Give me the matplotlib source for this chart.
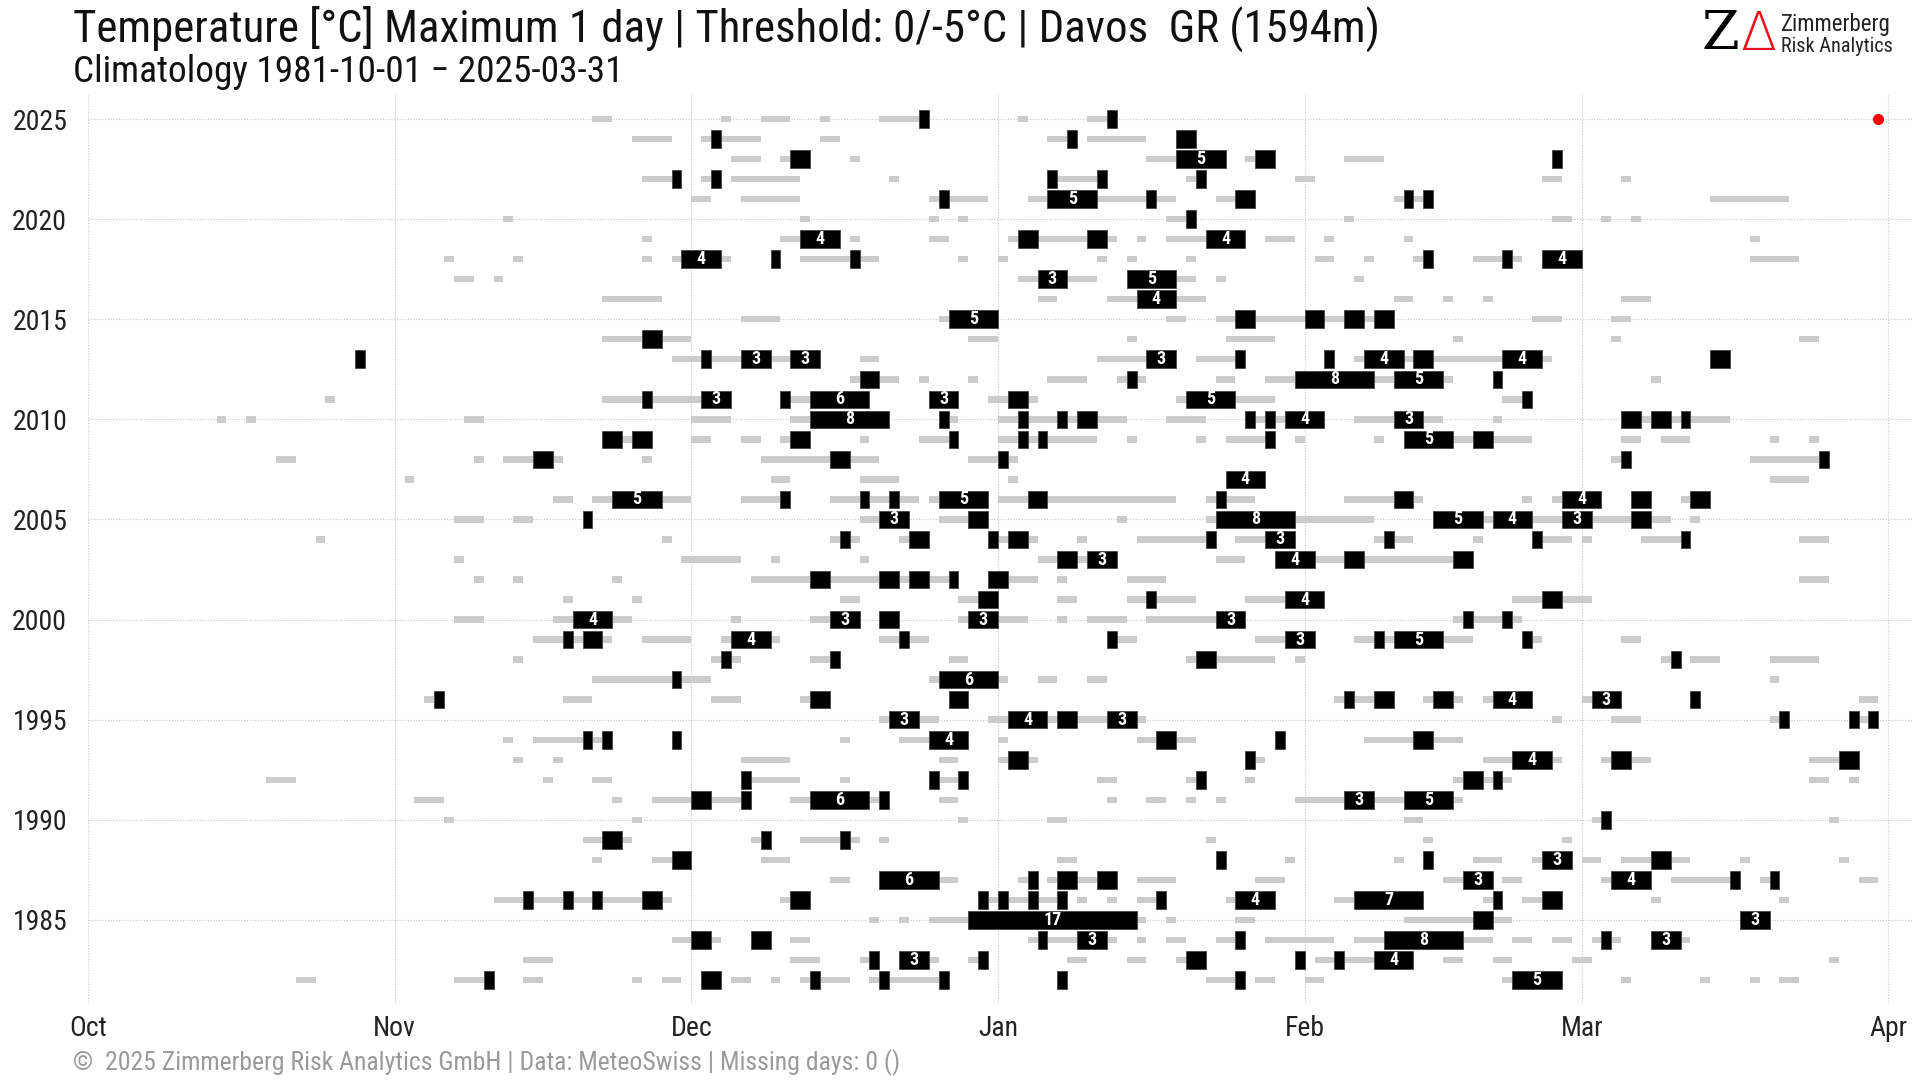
import matplotlib
matplotlib.use("Agg")
import matplotlib.pyplot as plt

plt.rcParams['font.family'] = ['Roboto Condensed', 'Liberation Sans Narrow', 'Roboto', 'DejaVu Sans']

# season rows (year of the Jan-Mar part), x = days since Oct 1
seasons = list(range(1982, 2026))
month_names = ['Oct', 'Nov', 'Dec', 'Jan', 'Feb', 'Mar', 'Apr']
month_days = [0, 31, 61, 92, 123, 151, 182]
year_ticks = list(range(1985, 2026, 5))
last_day = 181  # 2025-03-31

# runs of days with Tmax < 0 C : (first day, number of days)
below_0 = {
    2025: [(51, 2), (64, 1), (68, 3), (74, 1), (80, 4), (94, 1), (101, 2)],
    2024: [(55, 4), (62, 6), (74, 2), (97, 2), (101, 6)],
    2023: [(65, 3), (70, 1), (77, 1), (107, 3), (117, 1), (127, 4)],
    2022: [(56, 3), (62, 1), (65, 7), (81, 1), (98, 4), (111, 1), (122, 2), (147, 2), (155, 1)],
    2021: [(61, 2), (66, 6), (85, 1), (87, 4), (95, 2), (102, 5), (108, 2), (114, 2), (132, 4), (164, 8)],
    2020: [(42, 1), (72, 1), (85, 1), (88, 1), (109, 2), (127, 1), (148, 2), (153, 1), (156, 1)],
    2019: [(56, 1), (70, 2), (77, 1), (85, 2), (93, 1), (96, 5), (103, 1), (106, 1), (109, 4), (119, 3),
           (125, 1), (133, 1), (168, 1)],
    2018: [(36, 1), (43, 1), (56, 1), (59, 1), (64, 1), (72, 8), (88, 1), (92, 1), (102, 1), (105, 1),
           (111, 1), (124, 2), (129, 1), (134, 1), (140, 3), (144, 1), (168, 5)],
    2017: [(37, 2), (41, 1), (94, 2), (99, 3), (110, 2), (114, 1), (128, 1)],
    2016: [(52, 6), (96, 2), (103, 3), (110, 3), (132, 2), (137, 1), (141, 1), (155, 3)],
    2015: [(66, 4), (86, 1), (109, 2), (114, 16), (146, 3), (154, 2)],
    2014: [(52, 9), (89, 3), (105, 1), (115, 5), (138, 1), (154, 1), (173, 2)],
    2013: [(59, 13), (78, 2), (102, 5), (112, 4), (128, 20)],
    2012: [(77, 5), (84, 1), (89, 1), (97, 4), (104, 3), (114, 2), (119, 3), (130, 2), (137, 1), (158, 1)],
    2011: [(24, 1), (52, 10), (71, 2), (91, 2), (95, 1), (110, 1), (116, 4), (143, 2)],
    2010: [(13, 1), (16, 1), (38, 2), (61, 4), (71, 2), (87, 1), (92, 13), (109, 4), (118, 1), (120, 1),
           (128, 4), (135, 2), (142, 1), (157, 1), (160, 1), (162, 4)],
    2009: [(54, 1), (61, 2), (66, 2), (70, 1), (78, 1), (84, 3), (92, 10), (105, 1), (112, 1), (115, 4),
           (122, 1), (130, 1), (138, 2), (142, 4), (155, 2), (159, 3), (170, 1), (174, 1)],
    2008: [(19, 2), (39, 1), (42, 6), (56, 1), (68, 12), (89, 3), (93, 1), (154, 1), (168, 7)],
    2007: [(32, 1), (69, 2), (78, 4), (93, 1), (170, 4)],
    2006: [(47, 2), (51, 10), (66, 4), (75, 9), (85, 1), (92, 18), (113, 5), (127, 8), (145, 1), (148, 1),
           (161, 1)],
    2005: [(37, 3), (43, 2), (78, 2), (86, 3), (104, 1), (113, 1), (122, 8), (141, 1), (146, 3), (152, 8),
           (162, 1)],
    2004: [(23, 1), (58, 1), (75, 3), (82, 3), (92, 4), (100, 1), (106, 7), (116, 3), (130, 4), (140, 1),
           (146, 4), (151, 1), (157, 4), (173, 3)],
    2003: [(37, 1), (60, 6), (69, 1), (78, 1), (96, 2), (100, 1), (114, 3), (124, 3), (129, 9)],
    2002: [(39, 1), (43, 1), (53, 1), (67, 21), (93, 3), (98, 1), (105, 4), (173, 3)],
    2001: [(48, 1), (55, 1), (76, 2), (88, 2), (98, 2), (105, 7), (117, 4), (144, 3), (149, 3)],
    2000: [(37, 3), (47, 8), (65, 1), (73, 2), (88, 1), (92, 3), (98, 1), (101, 4), (107, 7), (138, 7)],
    1999: [(45, 8), (56, 5), (64, 6), (80, 5), (104, 2), (118, 3), (128, 12), (146, 1), (155, 2)],
    1998: [(43, 1), (63, 3), (73, 2), (87, 2), (111, 9), (122, 1), (159, 1), (162, 3), (170, 5)],
    1997: [(51, 12), (85, 1), (92, 1), (96, 2), (101, 2), (170, 1)],
    1996: [(34, 2), (48, 3), (63, 3), (72, 1), (126, 1), (128, 2), (135, 1), (138, 1), (141, 1), (151, 1),
           (179, 2)],
    1995: [(80, 1), (84, 2), (91, 2), (97, 1), (100, 3), (106, 1), (148, 1), (154, 3), (170, 1), (179, 1)],
    1994: [(42, 1), (45, 7), (76, 1), (82, 3), (92, 1), (106, 6), (129, 10)],
    1993: [(43, 1), (47, 1), (66, 5), (86, 2), (92, 4), (118, 1), (141, 3), (148, 1), (153, 1), (156, 2),
           (174, 3)],
    1992: [(18, 3), (46, 1), (51, 2), (67, 5), (76, 1), (86, 2), (102, 2), (111, 1), (117, 1), (138, 1),
           (141, 1), (143, 1), (174, 2), (178, 1)],
    1991: [(33, 3), (53, 1), (57, 9), (71, 2), (79, 1), (86, 2), (103, 1), (107, 2), (111, 1), (114, 1),
           (122, 5), (130, 3), (138, 1)],
    1990: [(36, 1), (55, 1), (88, 1), (97, 2), (133, 2), (152, 1), (176, 1)],
    1989: [(50, 5), (67, 1), (72, 6), (80, 1), (113, 1), (135, 1), (149, 1)],
    1988: [(51, 1), (57, 2), (68, 3), (98, 2), (121, 1), (132, 1), (140, 3), (146, 1), (151, 2), (155, 3),
           (160, 2), (167, 1), (177, 1)],
    1987: [(75, 2), (86, 2), (94, 1), (97, 1), (100, 2), (106, 4), (118, 3), (137, 2), (143, 2), (153, 1),
           (160, 6), (169, 1), (179, 2)],
    1986: [(41, 18), (70, 1), (91, 4), (96, 2), (100, 1), (103, 1), (106, 2), (115, 1), (126, 2), (141, 1),
           (145, 2), (158, 1), (171, 1)],
    1985: [(79, 1), (82, 1), (85, 4), (106, 1), (109, 1), (116, 2), (133, 11)],
    1984: [(59, 5), (71, 2), (95, 1), (97, 3), (103, 1), (106, 1), (109, 2), (114, 2), (119, 7), (128, 3),
           (139, 3), (144, 2), (148, 2), (152, 1), (154, 1), (161, 1)],
    1983: [(44, 3), (71, 3), (78, 1), (85, 1), (89, 1), (99, 2), (105, 2), (110, 1), (124, 2), (127, 3),
           (137, 2), (142, 2), (150, 2), (176, 1)],
    1982: [(21, 2), (37, 4), (44, 2), (55, 1), (58, 2), (65, 2), (69, 1), (72, 5), (79, 7), (113, 3),
           (118, 2), (123, 2), (143, 1), (155, 1), (163, 1), (168, 1), (171, 2)],
}

# runs of days with Tmax < -5 C
below_m5 = {
    2025: [(84, 1), (103, 1)],
    2024: [(63, 1), (99, 1), (110, 2)],
    2023: [(71, 2), (110, 5), (118, 2), (148, 1)],
    2022: [(59, 1), (63, 1), (97, 1), (102, 1), (112, 1)],
    2021: [(86, 1), (97, 5), (107, 1), (116, 2), (133, 1), (135, 1)],
    2020: [(111, 1)],
    2019: [(72, 4), (94, 2), (101, 2), (113, 4)],
    2018: [(60, 4), (69, 1), (77, 1), (135, 1), (143, 1), (147, 4)],
    2017: [(96, 3), (105, 5)],
    2016: [(106, 4)],
    2015: [(87, 5), (116, 2), (123, 2), (127, 2), (130, 2)],
    2014: [(56, 2)],
    2013: [(27, 1), (62, 1), (66, 3), (71, 3), (107, 3), (116, 1), (125, 1), (129, 4), (134, 2), (143, 4),
           (164, 2)],
    2012: [(78, 2), (105, 1), (122, 8), (132, 5), (142, 1)],
    2011: [(56, 1), (62, 3), (70, 1), (73, 6), (85, 3), (93, 2), (111, 5), (145, 1)],
    2010: [(73, 8), (86, 1), (94, 1), (98, 1), (100, 2), (117, 1), (119, 1), (121, 4), (132, 3), (155, 2),
           (158, 2), (161, 1)],
    2009: [(52, 2), (55, 2), (71, 2), (87, 1), (94, 1), (96, 1), (119, 1), (133, 5), (140, 2)],
    2008: [(45, 2), (75, 2), (92, 1), (155, 1), (175, 1)],
    2007: [(115, 4)],
    2006: [(53, 5), (70, 1), (78, 1), (81, 1), (86, 5), (95, 2), (114, 1), (132, 2), (149, 4), (156, 2),
           (162, 2)],
    2005: [(50, 1), (80, 3), (89, 2), (114, 8), (136, 5), (142, 4), (149, 3), (156, 2)],
    2004: [(76, 1), (83, 2), (91, 1), (93, 2), (113, 1), (119, 3), (131, 1), (146, 1), (161, 1)],
    2003: [(98, 2), (101, 3), (120, 4), (127, 2), (138, 2)],
    2002: [(73, 2), (80, 2), (83, 2), (87, 1), (91, 2)],
    2001: [(90, 2), (107, 1), (121, 4), (147, 2)],
    2000: [(49, 4), (75, 3), (80, 2), (89, 3), (114, 3), (139, 1), (143, 1)],
    1999: [(48, 1), (50, 2), (65, 4), (82, 1), (103, 1), (121, 3), (130, 1), (132, 5), (145, 1)],
    1998: [(64, 1), (75, 1), (112, 2), (160, 1)],
    1997: [(59, 1), (86, 6)],
    1996: [(35, 1), (73, 2), (87, 2), (127, 1), (130, 2), (136, 2), (142, 4), (152, 3), (162, 1)],
    1995: [(81, 3), (93, 4), (98, 2), (103, 3), (171, 1), (178, 1), (180, 1)],
    1994: [(50, 1), (52, 1), (59, 1), (85, 4), (108, 2), (120, 1), (134, 2)],
    1993: [(93, 2), (117, 1), (144, 4), (154, 2), (177, 2)],
    1992: [(66, 1), (85, 1), (88, 1), (112, 1), (139, 2), (142, 1)],
    1991: [(61, 2), (66, 1), (73, 6), (80, 1), (127, 3), (133, 5)],
    1990: [(153, 1)],
    1989: [(52, 2), (68, 1), (76, 1)],
    1988: [(59, 2), (114, 1), (135, 1), (147, 3), (158, 2)],
    1987: [(80, 6), (95, 1), (98, 2), (102, 2), (139, 3), (154, 4), (166, 1), (170, 1)],
    1986: [(44, 1), (48, 1), (51, 1), (56, 2), (71, 2), (90, 1), (92, 1), (95, 1), (98, 1), (108, 1),
           (116, 4), (128, 7), (142, 1), (147, 2)],
    1985: [(89, 17), (140, 2), (167, 3)],
    1984: [(61, 2), (67, 2), (96, 1), (100, 3), (116, 1), (131, 8), (153, 1), (158, 3)],
    1983: [(79, 1), (82, 3), (90, 1), (111, 2), (122, 1), (126, 1), (130, 4)],
    1982: [(40, 1), (62, 2), (73, 1), (80, 1), (86, 1), (98, 1), (116, 1), (144, 5)],
}

W, H = 1920, 1080
fig = plt.figure(figsize=(19.2, 10.8), dpi=100)
ax = fig.add_axes([88 / W, 1 - 1004 / H, (1913 - 88) / W, (1004 - 95) / H])

for yr in seasons:
    ax.broken_barh(below_0.get(yr, []), (yr - 0.16, 0.32), facecolors='#cccccc', edgecolors='none')

for yr in seasons:
    runs = below_m5.get(yr, [])
    ax.broken_barh(runs, (yr - 0.44, 0.88), facecolors='black', edgecolors='#444444', linewidth=0.6)
    for s, n in runs:
        if n >= 3:
            ax.text(s + n / 2, yr, str(n), color='white', ha='center', va='center',
                    fontsize=13, fontweight='bold')

ax.plot([last_day], [seasons[-1]], 'o', color='red', ms=7, zorder=5)

ax.set_xlim(0, 184.5)
ax.set_ylim(1980.8, 2026.2)
ax.set_xticks(month_days)
ax.set_xticklabels(month_names)
ax.set_yticks(year_ticks)
ax.tick_params(length=0, labelsize=20, colors='#222222')
ax.tick_params(axis='y', pad=15)
ax.tick_params(axis='x', pad=8)
ax.grid(True, color='#c8c8c8', linestyle=(0, (1, 1.5)), linewidth=0.8)
ax.set_axisbelow(True)
for sp in ax.spines.values():
    sp.set_visible(False)

fig.text(73 / W, 1 - 29 / H, 'Temperature [°C] Maximum 1 day | Threshold: 0/-5°C | Davos  GR (1594m)',
         fontsize=32.3, va='center', ha='left', color='#111111')
fig.text(73 / W, 1 - 72 / H, 'Climatology 1981-10-01 \u2212 2025-03-31',
         fontsize=26.8, va='center', ha='left', color='#111111')
fig.text(73 / W, 1 - 1063 / H,
         '\u00a9  2025 Zimmerberg Risk Analytics GmbH | Data: MeteoSwiss | Missing days: 0 ()',
         fontsize=18.5, va='center', ha='left', color='#9a9a9a')

# logo
fig.text(1720 / W, 1 - 35 / H, 'Z', fontsize=39, ha='center', va='center', color='black',
         family='DejaVu Serif')
fig.text(1758 / W, 1 - 35 / H, '\u0394', fontsize=38, ha='center', va='center', color='#e8141b',
         family='DejaVu Sans', fontweight='light')
fig.text(1781 / W, 1 - 24 / H, 'Zimmerberg', fontsize=16.5, ha='left', va='center', color='#222222')
fig.text(1781 / W, 1 - 46 / H, 'Risk Analytics', fontsize=14.6, ha='left', va='center', color='#222222')

fig.savefig('out.png', dpi=100)
